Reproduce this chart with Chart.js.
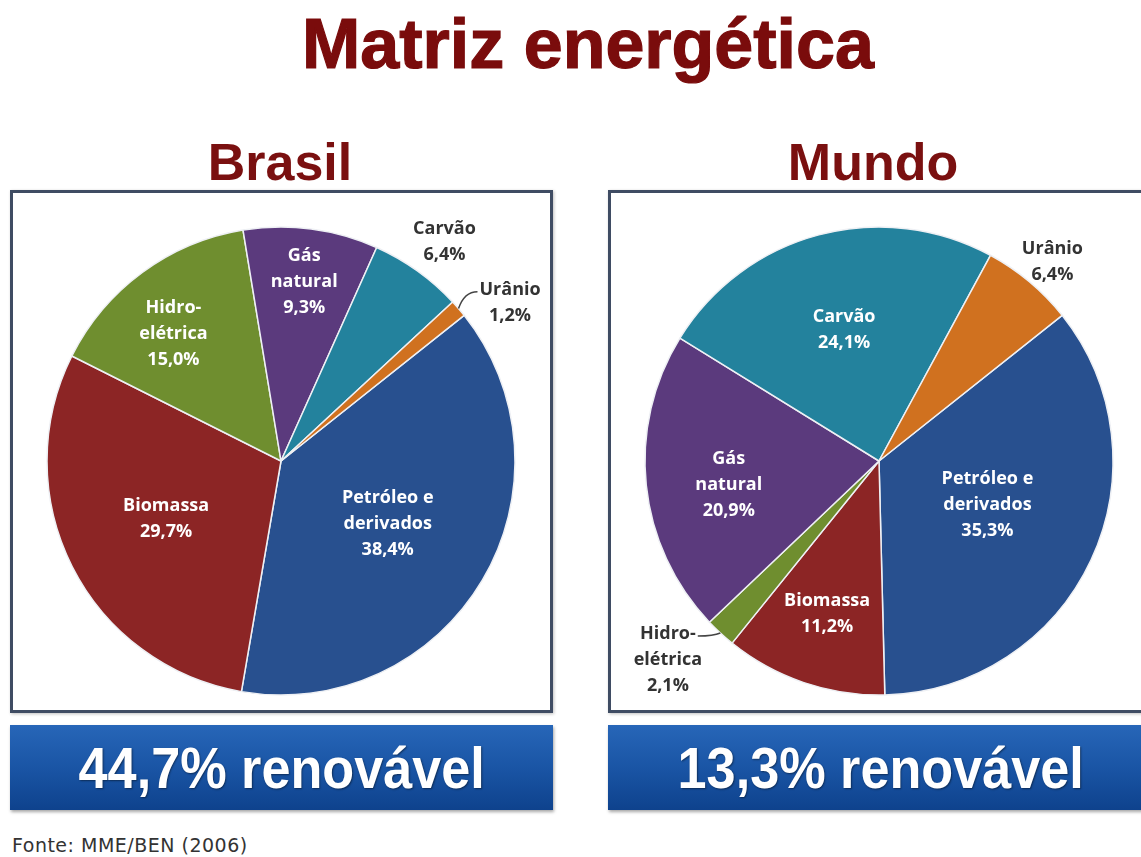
<!DOCTYPE html>
<html>
<head>
<meta charset="utf-8">
<script src="https://cdn.jsdelivr.net/npm/chart.js@4.4.0/dist/chart.umd.min.js"></script>
<style>
  html, body { margin: 0; padding: 0; }
  body { width: 1141px; height: 857px; position: relative; overflow: hidden; background: #fff; font-family: "Liberation Sans", Arial, sans-serif; }
  .title { position: absolute; left: 0; width: 1176px; top: 9px; text-align: center; font-weight: bold; font-size: 70px; line-height: 70px; color: #7a0c0c; -webkit-text-stroke: 1.2px #7a0c0c; }
  .sub { position: absolute; top: 136px; font-size: 52px; line-height: 52px; font-weight: bold; color: #7a1010; text-align: center; width: 400px; }
  .box { position: absolute; top: 190px; height: 523px; box-sizing: border-box; border: 3px solid #3f4c63; background: #fff; box-shadow: 1px 1px 3px rgba(0,0,0,0.25); }
  .box canvas { position: absolute; left: 0; top: 0; }
  .banner { position: absolute; top: 725px; height: 85px; background: linear-gradient(#2766b8, #1a55a5 50%, #0e428d); box-shadow: 1px 2px 3px rgba(0,0,0,0.35); display: flex; align-items: center; justify-content: center; }
  .banner span { display: inline-block; color: #fff; font-weight: bold; font-size: 58px; transform: scaleX(0.9); text-shadow: 1px 1px 2px rgba(0,0,0,0.45); }
  .fonte { position: absolute; left: 12px; top: 836px; font-family: "DejaVu Sans", sans-serif; font-size: 19px; line-height: 19px; letter-spacing: 0.5px; color: #333; }
</style>
</head>
<body>
<div class="title">Matriz energética</div>
<div class="sub" style="left:80px">Brasil</div>
<div class="sub" style="left:673px">Mundo</div>

<div class="box" style="left:10px; width:543px;"><canvas id="brasil" width="537" height="517"></canvas></div>
<div class="box" style="left:608px; width:545px; border-right:none;"><canvas id="mundo" width="533" height="517"></canvas></div>

<div class="banner" style="left:10px; width:543px;"><span>44,7% renovável</span></div>
<div class="banner" style="left:608px; width:545px;"><span>13,3% renovável</span></div>

<div class="fonte">Fonte: MME/BEN (2006)</div>

<script>
// categories (same order in both charts, clockwise from Petróleo)
var categories = ['Petróleo e derivados', 'Biomassa', 'Hidroelétrica', 'Gás natural', 'Carvão', 'Urânio'];
var categoryLines = [['Petróleo e', 'derivados'], ['Biomassa'], ['Hidro-', 'elétrica'], ['Gás', 'natural'], ['Carvão'], ['Urânio']];
var brasilValues = [38.4, 29.7, 15.0, 9.3, 6.4, 1.2];
var mundoValues = [35.3, 11.2, 2.1, 20.9, 24.1, 6.4];
var sliceColors = ['#28508f', '#8c2525', '#6f8e2f', '#5b3a7d', '#23829d', '#d0711f'];

// label placement per chart: radial fraction, angle shift (deg), outside?, leader line?
var brasilLabelPos = { r: [0.53, 0.55, 0.71, 0.77, 1.17, 1.19], shift: [0, 0, -4, 0, 1, 6],
  outside: [false, false, false, false, true, true], leader: [false, false, false, false, false, true] };
var mundoLabelPos = { r: [0.50, 0.69, 1.24, 0.65, 0.58, 1.13], shift: [-3, 0, 4, -3, 0, 1],
  outside: [false, false, true, false, false, true], leader: [false, false, true, false, false, false] };

var sliceLabels = {
  id: 'sliceLabels',
  afterDatasetsDraw: function(chart) {
    var pos = chart.options.plugins.sliceLabels.pos;
    var ctx = chart.ctx;
    var meta = chart.getDatasetMeta(0);
    var values = chart.data.datasets[0].data;
    ctx.save();
    ctx.font = 'bold 18px "Open Sans", sans-serif';
    ctx.textAlign = 'center';
    ctx.textBaseline = 'middle';
    meta.data.forEach(function(arc, i) {
      var p = arc.getProps(['x', 'y', 'startAngle', 'endAngle', 'outerRadius'], true);
      var mid = (p.startAngle + p.endAngle) / 2;
      var a = mid + pos.shift[i] * Math.PI / 180;
      var cx = p.x + Math.cos(a) * p.outerRadius * pos.r[i];
      var cy = p.y + Math.sin(a) * p.outerRadius * pos.r[i];
      var lines = categoryLines[i].concat([values[i].toFixed(1).replace('.', ',') + '%']);
      var lh = 26;
      var y0 = cy - (lines.length - 1) / 2 * lh;
      if (pos.leader[i]) {
        var ox = p.x + Math.cos(mid) * p.outerRadius;
        var oy = p.y + Math.sin(mid) * p.outerRadius;
        var w = ctx.measureText(lines[0]).width;
        var right = Math.cos(mid) > 0;
        var ex = right ? cx - w / 2 - 2 : cx + w / 2 + 2;
        var ey = y0 + 2;
        ctx.strokeStyle = '#444';
        ctx.lineWidth = 1.5;
        ctx.beginPath();
        ctx.moveTo(ox, oy);
        ctx.quadraticCurveTo(ox + (ex - ox) * 0.3, ey, ex, ey);
        ctx.stroke();
      }
      ctx.fillStyle = pos.outside[i] ? '#333' : '#fff';
      lines.forEach(function(t, k) { ctx.fillText(t, cx, y0 + k * lh); });
    });
    ctx.restore();
  }
};

function makePie(id, values, pos, padding) {
  return new Chart(id, {
    type: 'pie',
    data: {
      labels: categories,
      datasets: [{ data: values, backgroundColor: sliceColors, borderColor: '#eef0f4', borderWidth: 1.5 }]
    },
    options: {
      responsive: false,
      animation: false,
      rotation: 51.5,
      radius: 234,
      layout: { padding: padding },
      plugins: { legend: { display: false }, tooltip: { enabled: false }, sliceLabels: { pos: pos } }
    },
    plugins: [sliceLabels]
  });
}

makePie('brasil', brasilValues, brasilLabelPos, { left: 30, right: 31, top: 30, bottom: 11 });
makePie('mundo', mundoValues, mundoLabelPos, { left: 33, right: 30, top: 30, bottom: 11 });
</script>
</body>
</html>
